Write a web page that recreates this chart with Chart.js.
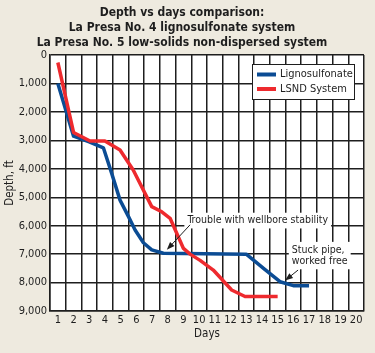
<!DOCTYPE html>
<html lang="en">
<head>
<meta charset="UTF-8">
<title>Depth vs days comparison</title>
<style>
  body { margin: 0; background: #eeeadf; }
  #chart { display: block; }
</style>
</head>
<body>
<canvas id="chart" width="375" height="353"></canvas>
<script src="https://cdn.jsdelivr.net/npm/chart.js"></script>
<script>
// chart data
const titleLines = [
  'Depth vs days comparison:',
  'La Presa No. 4 lignosulfonate system',
  'La Presa No. 5 low-solids non-dispersed system'
];
const dayTicks = [1, 2, 3, 4, 5, 6, 7, 8, 9, 10, 11, 12, 13, 14, 15, 16, 17, 18, 19, 20];
const depthTicks = [0, 1000, 2000, 3000, 4000, 5000, 6000, 7000, 8000, 9000];
const seriesNames = ['Lignosulfonate', 'LSND System'];

const ligDays  = [1, 2, 3, 3.9, 4.43, 4.96, 5.5, 5.92, 6.45, 6.98, 7.72, 13.0, 14.1, 15.15, 16.0, 17.0];
const ligDepth = [1000, 2850, 3050, 3260, 4160, 5100, 5680, 6150, 6600, 6850, 6970, 7000, 7500, 7970, 8110, 8110];

const lsndDays  = [1, 2, 3.05, 4, 4.96, 5.8, 6.98, 7.62, 8.15, 9.0, 9.42, 10.06, 10.9, 12.07, 12.92, 15.0];
const lsndDepth = [260, 2720, 3020, 3020, 3340, 4040, 5330, 5510, 5740, 6800, 7000, 7220, 7560, 8260, 8490, 8490];

const notes = [
  { lines: ['Trouble with wellbore stability'], day: 9.25, depth: 5825, from: [9.42, 5970], to: [7.94, 6850] },
  { lines: ['Stuck pipe,', 'worked free'], day: 15.9, depth: 6850, from: [16.3, 7560], to: [15.47, 7930] }
];

const FONT = "'DejaVu Sans Condensed', 'Liberation Sans', sans-serif";
const INK = '#1e1e1e';
const colors = ['#0b4c94', '#ee2a2e'];

Chart.defaults.font.family = FONT;
Chart.defaults.font.size = 11;
Chart.defaults.color = INK;

const zip = (xs, ys) => xs.map((d, i) => ({ x: d, y: ys[i] }));

function arrow(ctx, x1, y1, x2, y2) {
  const ang = Math.atan2(y2 - y1, x2 - x1);
  ctx.beginPath();
  ctx.moveTo(x1, y1);
  ctx.lineTo(x2 - 5 * Math.cos(ang), y2 - 5 * Math.sin(ang));
  ctx.stroke();
  ctx.beginPath();
  ctx.moveTo(x2, y2);
  ctx.lineTo(x2 - 8 * Math.cos(ang) + 3 * Math.sin(ang), y2 - 8 * Math.sin(ang) - 3 * Math.cos(ang));
  ctx.lineTo(x2 - 8 * Math.cos(ang) - 3 * Math.sin(ang), y2 - 8 * Math.sin(ang) + 3 * Math.cos(ang));
  ctx.closePath();
  ctx.fill();
}

const extras = {
  id: 'extras',
  beforeDraw(chart) {
    const { ctx, chartArea: a } = chart;
    ctx.save();
    ctx.fillStyle = '#ffffff';
    ctx.fillRect(a.left, a.top, a.width, a.height);
    ctx.restore();
  },
  afterDatasetsDraw(chart) {
    const { ctx, scales: { x, y } } = chart;
    ctx.save();
    ctx.textBaseline = 'middle';
    ctx.textAlign = 'left';
    ctx.strokeStyle = INK;
    ctx.fillStyle = INK;
    ctx.lineWidth = 1;

    // annotations with white boxes behind the text
    ctx.font = '10.5px ' + FONT;
    notes.forEach(n => {
      const tx = x.getPixelForValue(n.day);
      const ty = y.getPixelForValue(n.depth);
      const w = Math.max(...n.lines.map(l => ctx.measureText(l).width));
      const h = n.lines.length * 11.7;
      ctx.fillStyle = '#ffffff';
      ctx.fillRect(tx - 3, ty - 8, w + 6, h + 4);
      ctx.fillStyle = INK;
      n.lines.forEach((l, i) => ctx.fillText(l, tx, ty + i * 11.7));
      arrow(ctx, x.getPixelForValue(n.from[0]), y.getPixelForValue(n.from[1]),
                 x.getPixelForValue(n.to[0]), y.getPixelForValue(n.to[1]));
    });

    // legend box in the upper right of the plot
    ctx.font = '11px ' + FONT;
    const lx = 252, ly = 64, lw = 102, lh = 35;
    ctx.fillStyle = '#ffffff';
    ctx.fillRect(lx, ly, lw, lh);
    ctx.strokeRect(lx + 0.5, ly + 0.5, lw, lh);
    seriesNames.forEach((name, i) => {
      const ry = ly + 10.5 + i * 14.5;
      ctx.strokeStyle = colors[i];
      ctx.lineWidth = 4;
      ctx.beginPath();
      ctx.moveTo(lx + 5, ry);
      ctx.lineTo(lx + 24, ry);
      ctx.stroke();
      ctx.fillStyle = INK;
      ctx.fillText(name, lx + 28, ry);
    });
    ctx.restore();
  }
};

new Chart(document.getElementById('chart'), {
  type: 'line',
  data: {
    datasets: [
      {
        label: seriesNames[0],
        data: zip(ligDays, ligDepth),
        borderColor: colors[0],
        borderWidth: 3.5,
        pointRadius: 0,
        borderJoinStyle: 'round',
        order: 1
      },
      {
        label: seriesNames[1],
        data: zip(lsndDays, lsndDepth),
        borderColor: colors[1],
        borderWidth: 3.5,
        pointRadius: 0,
        borderJoinStyle: 'round',
        order: 0
      }
    ]
  },
  options: {
    responsive: false,
    animation: false,
    layout: { padding: { left: 0, right: 11, top: 0, bottom: 0 } },
    plugins: {
      legend: { display: false },
      tooltip: { enabled: false },
      title: {
        display: true,
        text: titleLines,
        color: INK,
        font: { size: 12, weight: 'bold', lineHeight: 1.225 },
        padding: { top: 6, bottom: 5 }
      }
    },
    scales: {
      x: {
        type: 'linear',
        min: 0.5,
        max: 20.5,
        afterBuildTicks: s => { s.ticks = dayTicks.map(v => ({ value: v })); },
        afterFit: s => { s.height = 42; },
        grid: { offset: true, color: INK, lineWidth: 1.5, drawTicks: false },
        border: { color: INK, width: 1.5 },
        ticks: { padding: 3, color: INK, maxRotation: 0, autoSkip: false, callback: v => String(v) },
        title: { display: true, text: 'Days', color: INK, font: { size: 11.5 }, padding: { top: 0, bottom: 12 } }
      },
      y: {
        reverse: true,
        min: 0,
        max: 9000,
        afterBuildTicks: s => { s.ticks = depthTicks.map(v => ({ value: v })); },
        afterFit: s => { s.width = 50; },
        grid: { color: INK, lineWidth: 1.5, drawTicks: false },
        border: { color: INK, width: 1.5 },
        ticks: { padding: 3, color: INK, callback: v => v.toLocaleString('en-US') },
        title: { display: true, text: 'Depth, ft', color: INK, font: { size: 11.5 }, padding: { top: 3, bottom: 0 } }
      }
    }
  },
  plugins: [extras]
});
</script>
</body>
</html>
